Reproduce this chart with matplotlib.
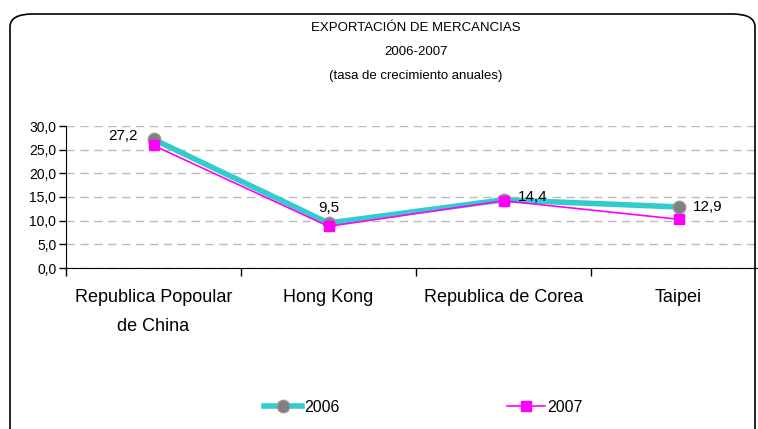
import matplotlib.pyplot as plt
from matplotlib.patches import FancyBboxPatch
from matplotlib.ticker import FuncFormatter

# data
categories = ["Republica Popoular\nde China", "Hong Kong", "Republica de Corea", "Taipei"]
exp_2006 = [27.2, 9.5, 14.4, 12.9]
exp_2007 = [25.9, 8.8, 14.2, 10.3]
labels_2006 = ["27,2", "9,5", "14,4", "12,9"]

plt.rcParams['font.family'] = ['Liberation Sans', 'DejaVu Sans']

fig = plt.figure(figsize=(7.58, 4.29), dpi=100)

# rounded frame around the chart
frame = FancyBboxPatch((10 / 758, -0.1), 745 / 758, 1 - 14 / 429 + 0.1,
                       boxstyle="round,pad=0,rounding_size=0.03",
                       transform=fig.transFigure, fill=False,
                       edgecolor="black", linewidth=1.2)
fig.patches.append(frame)

ax = fig.add_axes([66 / 758, 1 - 268 / 429, 700 / 758, 142 / 429])
x = list(range(len(categories)))

ax.plot(x, exp_2006, color="#33CCCC", lw=4, marker="o", markersize=9,
        markerfacecolor="#808080", markeredgecolor="#999999", label="2006", zorder=3)
ax.plot(x, exp_2007, color="#FF00FF", lw=1.2, marker="s", markersize=7,
        markerfacecolor="#FF00FF", markeredgecolor="#FF00FF", label="2007", zorder=4)

ax.set_xlim(-0.5, 3.5)
ax.set_ylim(0, 30)
ax.set_yticks([0, 5, 10, 15, 20, 25, 30])
ax.yaxis.set_major_formatter(FuncFormatter(lambda v, p: f"{v:.1f}".replace(".", ",")))
ax.set_xticks([-0.5, 0.5, 1.5, 2.5, 3.5])
ax.set_xticklabels([])
ax.tick_params(axis="x", direction="out", length=6, width=1)
ax.tick_params(axis="y", direction="out", length=5, width=1, labelsize=10, pad=2)
ax.yaxis.grid(True, linestyle=(0, (6, 4)), color="#BBBBBB", lw=1)
ax.set_axisbelow(True)
for s in ["top", "right"]:
    ax.spines[s].set_visible(False)

for i, c in enumerate(categories):
    ax.text(i, -4.5, c, ha="center", va="top", fontsize=13, linespacing=1.9)

# data labels for 2006
offsets = [(-11, 2, "right", "center"), (0, 6, "center", "bottom"),
           (10, 2, "left", "center"), (10, 0, "left", "center")]
for i, (dx, dy, ha, va) in enumerate(offsets):
    ax.annotate(labels_2006[i], (x[i], exp_2006[i]), xytext=(dx, dy),
                textcoords="offset points", ha=ha, va=va, fontsize=11)

fig.text(0.549, 1 - 28 / 429, "EXPORTACIÓN DE MERCANCIAS", ha="center", va="center", fontsize=9.5)
fig.text(0.549, 1 - 52 / 429, "2006-2007", ha="center", va="center", fontsize=9.5)
fig.text(0.549, 1 - 76 / 429, "(tasa de crecimiento anuales)", ha="center", va="center", fontsize=9.5)

fig.legend(loc="center", bbox_to_anchor=(423 / 758, 1 - 407 / 429), ncol=2, frameon=False,
           fontsize=11.5, handlelength=2.4, handletextpad=0.1, columnspacing=10.5,
           borderpad=0, borderaxespad=0)

fig.savefig("out.png", dpi=100)
